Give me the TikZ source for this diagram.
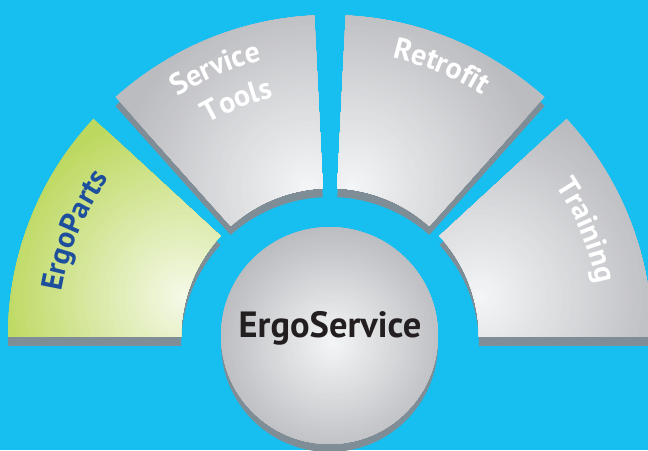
\documentclass[tikz,border=0pt]{standalone}
\usepackage{fontspec}
\setmainfont{PT Sans}
\usetikzlibrary{decorations.text}
\definecolor{bg}{HTML}{17BFF0}
\definecolor{shadowgray}{HTML}{7F8D96}
\definecolor{gdark}{HTML}{BBBCC0}
\definecolor{glight}{HTML}{F4F5F6}
\definecolor{grdark}{HTML}{BCD85E}
\definecolor{grlight}{HTML}{F5F9E8}
\definecolor{partsblue}{HTML}{1D4F9D}
\definecolor{textblack}{HTML}{231F20}
\newcommand\sect[2]{(#1:322) arc[start angle=#1,end angle=#2,radius=322] -- (#2:149) arc[start angle=#2,end angle=#1,radius=149] -- cycle}
\newcommand\spotshade[5]{%
  \fill[#5] (-700,-700) rectangle (700,700);
  \foreach \k in {0,...,59}{%
    \pgfmathsetmacro\rr{#3*(1-\k/60)}%
    \pgfmathtruncatemacro\pp{\k*100/59}%
    \fill[#4!\pp!#5] (#1,#2) circle (\rr);
  }}
% curved label centred at angle #3 on radius #4
\newcommand\arclabel[4]{%
  \path[decorate, decoration={text along path, text align=center,
     text={|\bfseries\fontsize{30}{30}\selectfont\color{#1}|#2}}]
     (#3+20:#4) arc[start angle=#3+20, end angle=#3-20, radius=#4];}
\begin{document}
\begin{tikzpicture}[x=1pt,y=1pt]
\useasboundingbox (0,0) rectangle (648,450);
\clip (0,0) rectangle (648,450);
\fill[bg] (0,0) rectangle (648,450);
% fan sectors
\begin{scope}[shift={(330,113)}]
  \begin{scope}[yshift=-9]
    \fill[shadowgray] \sect{137.3}{180};
    \fill[shadowgray] \sect{92.8}{131.8};
    \fill[shadowgray] \sect{48.2}{87.2};
    \fill[shadowgray] \sect{0}{42.7};
  \end{scope}
  \begin{scope}
    \clip \sect{137.3}{180};
    \spotshade{-145}{40}{190}{grlight}{grdark}
  \end{scope}
  \begin{scope}
    \clip \sect{92.8}{131.8};
    \spotshade{-22}{150}{190}{glight}{gdark}
  \end{scope}
  \begin{scope}
    \clip \sect{48.2}{87.2};
    \spotshade{22}{150}{190}{glight}{gdark}
  \end{scope}
  \begin{scope}
    \clip \sect{0}{42.7};
    \spotshade{150}{40}{190}{glight}{gdark}
  \end{scope}
  % curved labels
  \arclabel{partsblue}{ErgoParts}{157.4}{272}
  \arclabel{white}{Service}{113.1}{285}
  \arclabel{white}{Tools}{111.5}{246}
  \arclabel{white}{Retrofit}{67.6}{286}
  \arclabel{white}{Training}{22.6}{272}
\end{scope}
% central circle
\fill[shadowgray] (329.5,106.5) circle (108.5);
\begin{scope}
  \clip (329.5,114.5) circle (108.5);
  \spotshade{333}{107}{118}{glight}{gdark}
\end{scope}
\node[font=\bfseries\fontsize{36.5}{40}\selectfont, text=textblack, inner sep=0pt, anchor=base] (core) at (330,112) {ErgoService};
\end{tikzpicture}
\end{document}
